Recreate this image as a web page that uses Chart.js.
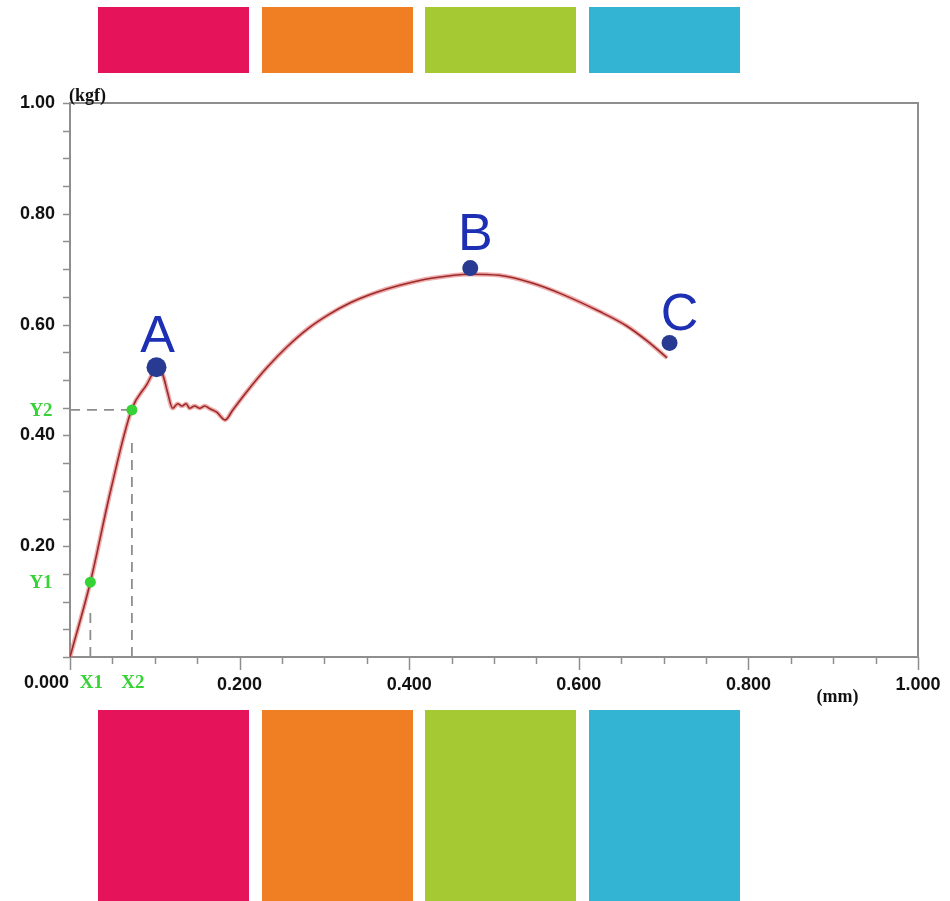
<!DOCTYPE html>
<html>
<head>
<meta charset="utf-8">
<script src="https://cdn.jsdelivr.net/npm/chart.js@4.4.1/dist/chart.umd.min.js"></script>
<style>
  html, body { margin: 0; padding: 0; background: #fff; }
  #wrap { position: relative; width: 950px; height: 901px; overflow: hidden; }
  #chart { position: absolute; left: 0; top: 0; }
  .swatch { position: absolute; }
</style>
</head>
<body>
<div id="wrap">
  <canvas id="chart" width="950" height="901"></canvas>
</div>
<script>
// ===== DATA =====
// force (kgf) vs displacement (mm)
const curveX = [0.000, 0.024, 0.048, 0.073, 0.091, 0.098, 0.104, 0.110, 0.115, 0.121,
                0.127, 0.132, 0.137, 0.141, 0.147, 0.153, 0.159, 0.165, 0.173, 0.183,
                0.192, 0.208, 0.232, 0.256, 0.280, 0.305, 0.330, 0.359, 0.389, 0.428,
                0.471, 0.506, 0.545, 0.580, 0.624, 0.656, 0.681, 0.704];
const curveY = [0.000, 0.135, 0.301, 0.448, 0.493, 0.513, 0.522, 0.507, 0.478, 0.449,
                0.457, 0.453, 0.457, 0.449, 0.453, 0.449, 0.453, 0.448, 0.442, 0.428,
                0.446, 0.478, 0.522, 0.560, 0.592, 0.618, 0.639, 0.657, 0.671, 0.684,
                0.691, 0.689, 0.675, 0.655, 0.624, 0.598, 0.570, 0.540];

// labelled points A, B, C
const keyNames = ['A', 'B', 'C'];
const keyX = [0.102, 0.472, 0.707];
const keyY = [0.523, 0.702, 0.567];

// slope reference points (X1,Y1) and (X2,Y2)
const refNames = ['1', '2'];
const refX = [0.024, 0.073];
const refY = [0.135, 0.446];

// where the dashed guide lines stop
const guideX1Top = 0.085;
const guideX2Top = 0.39;

// axis ticks
const xTickValues = [0, 0.2, 0.4, 0.6, 0.8, 1.0];
const xTickLabels = ['0.000', '0.200', '0.400', '0.600', '0.800', '1.000'];
const yTickValues = [0.2, 0.4, 0.6, 0.8, 1.0];
const yTickLabels = ['0.20', '0.40', '0.60', '0.80', '1.00'];
const minorStep = 0.05;

const xUnit = '(mm)';
const yUnit = '(kgf)';

const swatchColors = ['#e5135a', '#ef7f22', '#a4c932', '#33b4d3'];

// ===== SWATCHES (decoration above / below the plot) =====
const wrap = document.getElementById('wrap');
swatchColors.forEach((c, i) => {
  [[7, 66], [710, 191]].forEach(([top, h]) => {
    const d = document.createElement('div');
    d.className = 'swatch';
    d.style.cssText = `left:${98 + i * 163.7}px;top:${top}px;width:151px;height:${h}px;background:${c}`;
    wrap.appendChild(d);
  });
});

// ===== HELPERS =====
const pts = (xs, ys) => xs.map((x, i) => ({ x, y: ys[i] }));
const GRAY = '#8e8e8e';
const GREEN = '#36d236';
const SANS = '"Liberation Sans", Arial, sans-serif';
const SERIF = '"Liberation Serif", "Times New Roman", serif';

// frame, minor ticks and the extra labels
const decorations = {
  id: 'decorations',
  beforeDatasetsDraw(chart) {
    const { ctx, chartArea: a, scales: { x, y } } = chart;
    ctx.save();
    ctx.strokeStyle = GRAY;
    ctx.lineWidth = 2;
    ctx.strokeRect(a.left, a.top, a.right - a.left, a.bottom - a.top);

    ctx.lineWidth = 1.5;
    ctx.beginPath();
    for (let v = 0; v <= 1.0001; v += minorStep) {
      const major = xTickValues.some(t => Math.abs(t - v) < 1e-6);
      const px = Math.round(x.getPixelForValue(v)) + 0.5;
      ctx.moveTo(px, a.bottom);
      ctx.lineTo(px, a.bottom + (major ? 13 : 7));
      const py = Math.round(y.getPixelForValue(v)) + 0.5;
      ctx.moveTo(a.left, py);
      ctx.lineTo(a.left - 7, py);
    }
    ctx.stroke();
    ctx.restore();
  },
  afterDatasetsDraw(chart) {
    const { ctx, chartArea: a, scales: { x, y } } = chart;
    ctx.save();
    // origin label sits left of the axis
    ctx.fillStyle = '#111';
    ctx.font = `bold 18px ${SANS}`;
    ctx.textAlign = 'right';
    ctx.textBaseline = 'middle';
    ctx.fillText(xTickLabels[0], a.left - 1, a.bottom + 26);

    // units
    ctx.font = `bold 18px ${SERIF}`;
    ctx.textAlign = 'left';
    ctx.fillText(yUnit, a.left - 1, a.top - 7);
    ctx.textAlign = 'center';
    ctx.fillText(xUnit, x.getPixelForValue(0.905), a.bottom + 40);

    // green reference labels
    ctx.fillStyle = GREEN;
    ctx.font = `bold 19px ${SERIF}`;
    refNames.forEach((n, i) => {
      ctx.textAlign = 'center';
      ctx.fillText('Y' + n, a.left - 29, y.getPixelForValue(refY[i]) + 1);
      ctx.fillText('X' + n, x.getPixelForValue(refX[i]) + 1, a.bottom + 26);
    });

    // A, B, C letters
    const off = [[1, -15], [5, -18], [10, -13]];
    ctx.fillStyle = '#1d2fb3';
    ctx.font = `52px ${SANS}`;
    ctx.textAlign = 'center';
    ctx.textBaseline = 'alphabetic';
    keyNames.forEach((n, i) => {
      ctx.fillText(n, x.getPixelForValue(keyX[i]) + off[i][0], y.getPixelForValue(keyY[i]) + off[i][1]);
    });
    ctx.restore();
  }
};

// ===== CHART =====
new Chart(document.getElementById('chart'), {
  type: 'scatter',
  data: {
    datasets: [
      {
        label: 'key points',
        data: pts(keyX, keyY),
        pointRadius: [10, 8, 8],
        pointBackgroundColor: '#283a92',
        pointBorderWidth: 0,
        showLine: false,
        order: 0
      },
      {
        label: 'reference points',
        data: pts(refX, refY),
        pointRadius: 5.5,
        pointBackgroundColor: GREEN,
        pointBorderWidth: 0,
        showLine: false,
        order: 1
      },
      {
        label: 'curve',
        data: pts(curveX, curveY),
        showLine: true,
        borderColor: '#9c2a2a',
        borderWidth: 1.6,
        pointRadius: 0,
        tension: 0.4,
        cubicInterpolationMode: 'monotone',
        order: 2
      },
      {
        label: 'curve halo',
        data: pts(curveX, curveY),
        showLine: true,
        borderColor: 'rgba(226,118,118,0.6)',
        borderWidth: 4.5,
        pointRadius: 0,
        tension: 0.4,
        cubicInterpolationMode: 'monotone',
        order: 3
      },
      {
        label: 'guide Y2',
        data: [{ x: 0, y: refY[1] }, { x: refX[1], y: refY[1] }],
        showLine: true, borderColor: GRAY, borderWidth: 1.8, borderDash: [10, 7],
        pointRadius: 0, order: 4
      },
      {
        label: 'guide X2',
        data: [{ x: refX[1], y: 0 }, { x: refX[1], y: guideX2Top }],
        showLine: true, borderColor: GRAY, borderWidth: 1.8, borderDash: [10, 7],
        pointRadius: 0, order: 4
      },
      {
        label: 'guide X1',
        data: [{ x: refX[0], y: 0 }, { x: refX[0], y: guideX1Top }],
        showLine: true, borderColor: GRAY, borderWidth: 1.8, borderDash: [10, 7],
        pointRadius: 0, order: 4
      }
    ]
  },
  options: {
    responsive: false,
    animation: false,
    layout: { padding: { top: 103, right: 32, left: 0, bottom: 0 } },
    plugins: { legend: { display: false }, tooltip: { enabled: false }, title: { display: false } },
    scales: {
      x: {
        type: 'linear', min: 0, max: 1,
        grid: { display: false, drawTicks: false },
        border: { display: false },
        afterBuildTicks: s => { s.ticks = xTickValues.map(v => ({ value: v })); },
        afterFit: s => { s.height = 244; s.paddingLeft = 0; s.paddingRight = 0; },
        ticks: {
          padding: 17,
          maxRotation: 0,
          autoSkip: false,
          color: '#111',
          font: { family: SANS, size: 18, weight: 'bold' },
          callback: (v, i) => (i === 0 ? '' : xTickLabels[i])
        }
      },
      y: {
        type: 'linear', min: 0, max: 1,
        grid: { display: false, drawTicks: false },
        border: { display: false },
        afterBuildTicks: s => { s.ticks = yTickValues.map(v => ({ value: v })); },
        afterFit: s => { s.width = 70; s.paddingTop = 0; s.paddingBottom = 0; },
        ticks: {
          padding: 15,
          autoSkip: false,
          color: '#111',
          font: { family: SANS, size: 18, weight: 'bold' },
          callback: (v, i) => yTickLabels[i]
        }
      }
    }
  },
  plugins: [decorations]
});
</script>
</body>
</html>
